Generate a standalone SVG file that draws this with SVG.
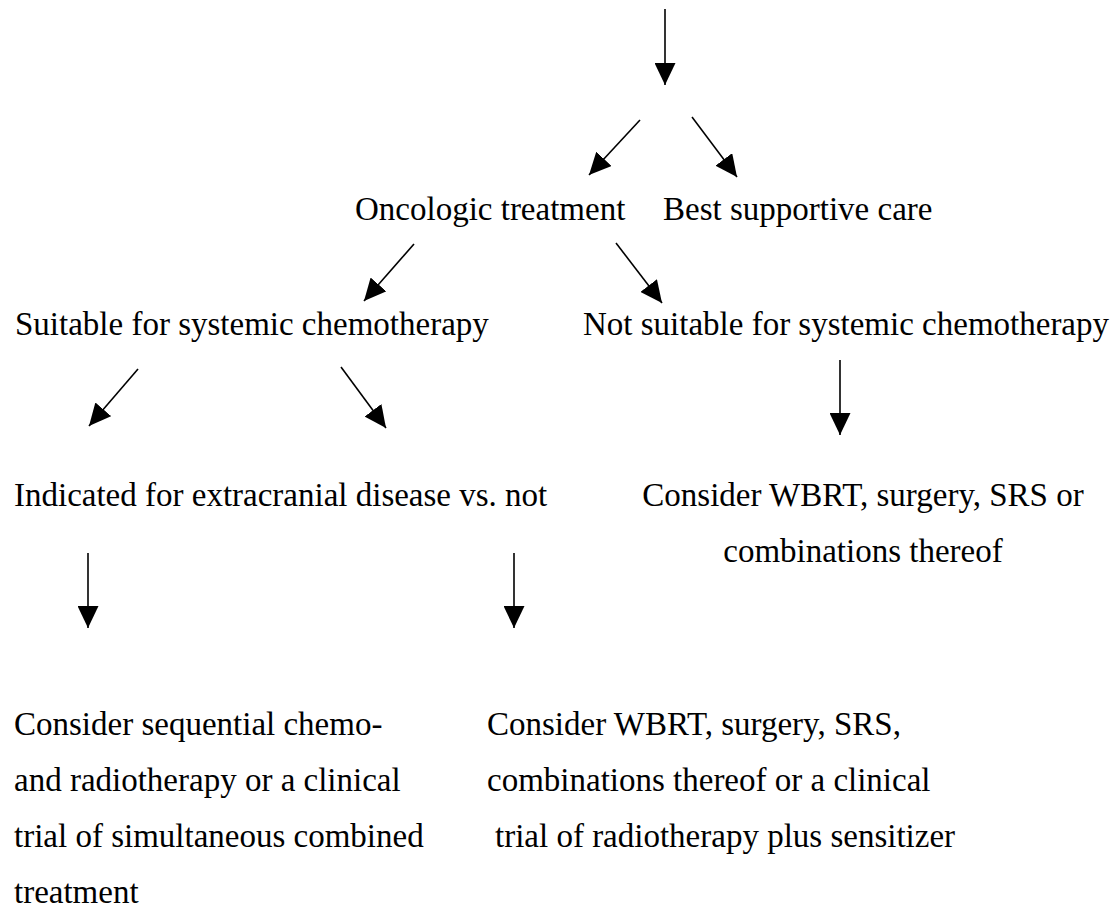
<svg xmlns="http://www.w3.org/2000/svg" width="1119" height="911" viewBox="0 0 1119 911">
<style>
text{font-family:"Liberation Serif","Times New Roman",serif;font-size:33px;fill:#000}
.c{stroke:#000;stroke-width:1.6;fill:none;marker-end:url(#ah)}
</style>
<defs>
<marker id="ah" markerUnits="userSpaceOnUse" markerWidth="22" markerHeight="21" refX="22" refY="10.5" orient="auto" viewBox="0 0 22 21">
<path d="M0,0 L22,10.5 L0,21 z" fill="#000"/>
</marker>
</defs>
<rect width="1119" height="911" fill="#fff"/>
<g id="connectors">
<line class="c" x1="665" y1="9" x2="665" y2="85"/>
<line class="c" x1="640" y1="120" x2="589" y2="175"/>
<line class="c" x1="692" y1="117" x2="737" y2="177"/>
<line class="c" x1="414" y1="244" x2="364" y2="301"/>
<line class="c" x1="616" y1="243" x2="662" y2="303"/>
<line class="c" x1="138" y1="369" x2="89" y2="426"/>
<line class="c" x1="341" y1="367" x2="386" y2="428"/>
<line class="c" x1="840" y1="360" x2="840" y2="435"/>
<line class="c" x1="88" y1="553" x2="88" y2="628"/>
<line class="c" x1="514" y1="553" x2="514" y2="628"/>
</g>
<g id="oncologic"><text x="355" y="220">Oncologic treatment</text></g>
<g id="bsc"><text x="663" y="220">Best supportive care</text></g>
<g id="suitable"><text x="15" y="335">Suitable for systemic chemotherapy</text></g>
<g id="notsuitable"><text x="583" y="335">Not suitable for systemic chemotherapy</text></g>
<g id="indicated"><text x="14" y="506">Indicated for extracranial disease vs. not</text></g>
<g id="wbrt1"><text x="863" y="506" text-anchor="middle">Consider WBRT, surgery, SRS or</text><text x="863" y="562" text-anchor="middle">combinations thereof</text></g>
<g id="sequential">
<text x="14" y="735">Consider sequential chemo-</text>
<text x="14" y="791">and radiotherapy or a clinical</text>
<text x="14" y="847">trial of simultaneous combined</text>
<text x="14" y="903">treatment</text>
</g>
<g id="wbrt2">
<text x="487" y="735">Consider WBRT, surgery, SRS,</text>
<text x="487" y="791">combinations thereof or a clinical</text>
<text x="495" y="847">trial of radiotherapy plus sensitizer</text>
</g>
</svg>
